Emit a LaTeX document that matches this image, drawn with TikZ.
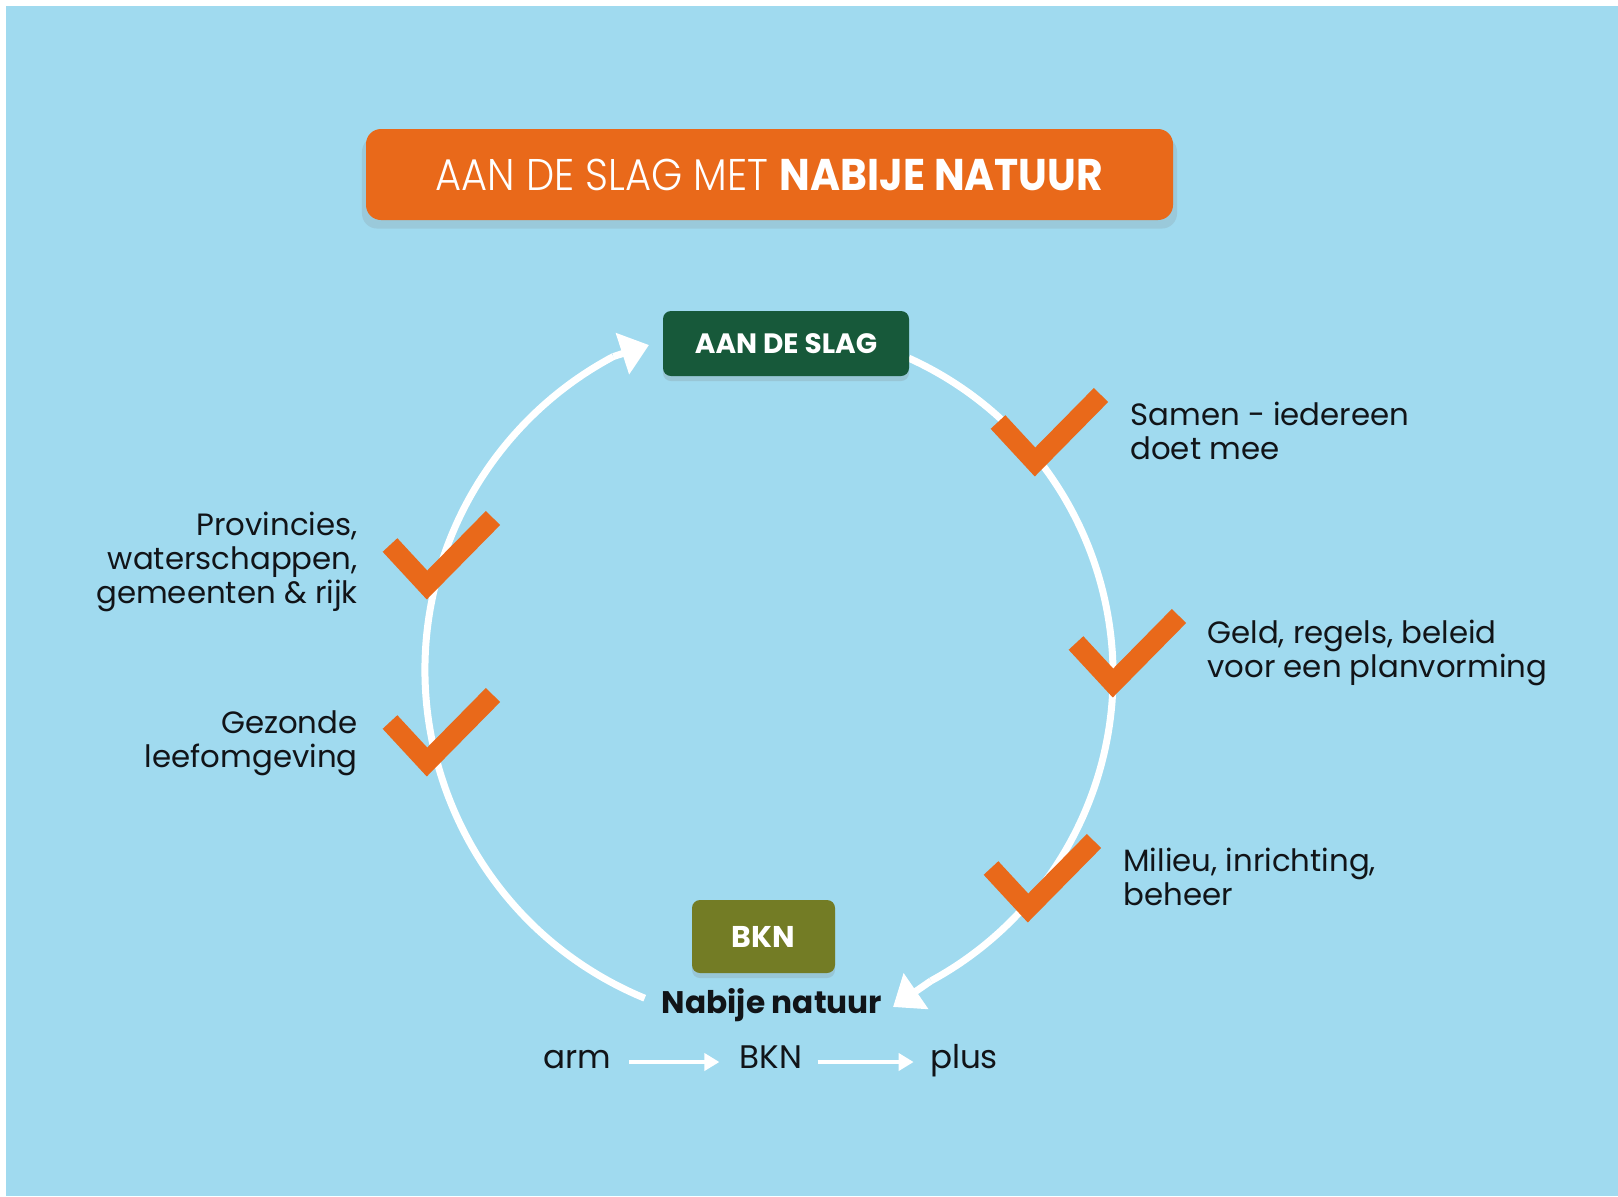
\documentclass[tikz,border=0pt]{standalone}
\usepackage{fontspec}
\setmainfont{Poppins}
\newfontfamily\poplight{Poppins Light}
\usetikzlibrary{arrows.meta,shadows,calc}
\definecolor{bgblue}{HTML}{A0DAEF}
\definecolor{orng}{HTML}{E9691A}
\definecolor{dgreen}{HTML}{17593A}
\definecolor{olive}{HTML}{737C25}
\definecolor{ink}{HTML}{111418}
\tikzset{
  lbl/.style={font=\fontsize{15.4}{17}\selectfont, text=ink, inner sep=0pt},
  rowtxt/.style={font=\fontsize{16.3}{19}\selectfont, text=ink, inner sep=0pt},
  bigarc/.style={draw=white, line width=3.5pt},
  arctip/.style={draw=white, fill=white, line width=3.5pt, -{Triangle[length=14pt,width=21pt]}},
  rowarrow/.style={draw=white, line width=2pt, -{Triangle[length=7.5pt,width=8.5pt]}},
  chk/.pic={\draw[orng, line width=10pt, line cap=butt, line join=miter] (-37,-40) -- (0,0) -- (66,-67);},
  softshadow/.style={drop shadow={opacity=0.22, shadow xshift=0pt, shadow yshift=-2.5pt}},
  titleshadow/.style={drop shadow={opacity=0.18, shadow xshift=0pt, shadow yshift=-4pt, shadow scale=1.01}}
}
\begin{document}
\begin{tikzpicture}[x=0.5pt,y=-0.5pt]
\useasboundingbox (0,0) rectangle (1618,1196);
\fill[white] (0,0) rectangle (1618,1196);
\fill[bgblue] (6,6) rectangle (1618,1196);

% title
\node[fill=orng, rounded corners=7.5pt, minimum width=403.5pt, minimum height=45.5pt,
      titleshadow, text=white, font=\fontsize{22.2}{26}\selectfont] (title) at (769.5,174.5)
  {\scalebox{0.9}[1]{\poplight AAN DE SLAG MET} \scalebox{0.92}[1]{\bfseries NABIJE NATUUR}};

% left arc (BKN -> AAN DE SLAG)
\coordinate (lc) at (780,670);
\coordinate (la) at ($(lc)+(112.4:355)$);
\coordinate (lb) at ($(lc)+(242:355)$);
\coordinate (lt) at (649,345);
\draw[bigarc] (la) arc[start angle=112.4, end angle=242, radius=355];
\draw[arctip] (lb) -- (lt);

% right arc (AAN DE SLAG -> BKN)
\coordinate (rc) at (765,675);
\coordinate (ra) at ($(rc)+(-65.6:348)$);
\coordinate (rb) at ($(rc)+(61.5:348)$);
\coordinate (rt) at (893,1007);
\draw[bigarc] (ra) arc[start angle=-65.6, end angle=61.5, radius=348];
\draw[arctip] (rb) -- (rt);

% boxes
\node[fill=dgreen, rounded corners=4pt, minimum width=123pt, minimum height=32.5pt, softshadow,
      text=white, font=\bfseries\fontsize{14}{16}\selectfont] (start) at (786,343.5) {AAN DE SLAG};
\node[fill=olive, rounded corners=4pt, minimum width=71.5pt, minimum height=36.5pt, softshadow,
      text=white, font=\bfseries\fontsize{15}{17}\selectfont] (bkn) at (763.5,936.5) {BKN};

\node[text=ink, inner sep=0pt, anchor=base, font=\bfseries\fontsize{15.6}{18}\selectfont] (nabij) at (772,1013) {Nabije natuur};

% bottom row
\node[rowtxt, anchor=base] (arm) at (577,1068) {arm};
\node[rowtxt, anchor=base] (bkn2) at (771,1068) {BKN};
\node[rowtxt, anchor=base] (plus) at (964,1068) {plus};
\coordinate (rowy) at (0,1062);
\draw[rowarrow, shorten <=9pt, shorten >=10pt] (arm.east |- rowy) -- (bkn2.west |- rowy);
\draw[rowarrow, shorten <=7.5pt, shorten >=8pt] (bkn2.east |- rowy) -- (plus.west |- rowy);

% checks
\pic at (427,585) {chk};
\pic at (427,762) {chk};
\pic at (1035,462) {chk};
\pic at (1113,683) {chk};
\pic at (1028,908) {chk};

% labels (anchor = baseline of last line)
\node[lbl, anchor=base east, align=right] (prov) at (358,603) {Provincies,\\waterschappen,\\gemeenten \& rijk};
\node[lbl, anchor=base east, align=right] (gez) at (358,767) {Gezonde\\leefomgeving};
\node[lbl, anchor=base west, align=left] (samen) at (1130,459) {Samen - iedereen\\doet mee};
\node[lbl, anchor=base west, align=left] (geld) at (1207,677) {Geld, regels, beleid\\voor een planvorming};
\node[lbl, anchor=base west, align=left] (milieu) at (1123,905) {Milieu, inrichting,\\beheer};
\end{tikzpicture}
\end{document}
